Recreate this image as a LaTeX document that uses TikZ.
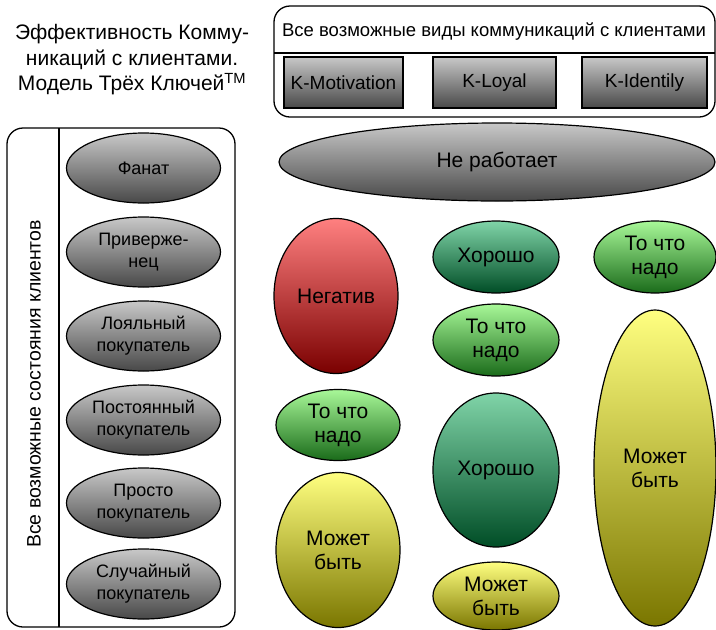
\documentclass[tikz,border=0pt]{standalone}
\usepackage{fontspec}
\setmainfont{Liberation Sans}
\usetikzlibrary{shapes.geometric}
\definecolor{grayT}{HTML}{C8C8C8}
\definecolor{grayB}{HTML}{484848}
\definecolor{redT}{HTML}{FF8080}
\definecolor{redB}{HTML}{7A0000}
\definecolor{dgT}{HTML}{80D4A8}
\definecolor{dgB}{HTML}{004D26}
\definecolor{lgT}{HTML}{A8F898}
\definecolor{lgB}{HTML}{1A6B1A}
\definecolor{yT}{HTML}{FFFF80}
\definecolor{yB}{HTML}{7A7600}
\tikzset{
  txt/.style={font=\fontsize{18}{22}\selectfont, align=center, inner sep=0pt},
  bigtxt/.style={font=\fontsize{21}{24}\selectfont},
  ell/.style={ellipse, draw=black, line width=1.2pt, inner sep=0pt, txt},
  grayell/.style={ell, top color=grayT, bottom color=grayB},
  redell/.style={ell, bigtxt, top color=redT, bottom color=redB},
  dgell/.style={ell, bigtxt, top color=dgT, bottom color=dgB},
  lgell/.style={ell, bigtxt, top color=lgT, bottom color=lgB},
  yell/.style={ell, bigtxt, top color=yT, bottom color=yB},
  kbtn/.style={rectangle, draw=black, line width=1.2pt, top color=grayT, bottom color=grayB, txt, font=\fontsize{19}{22}\selectfont},
  frame/.style={draw=black, line width=1.3pt, rounded corners=16pt}
}
\begin{document}
\begin{tikzpicture}[x=1pt, y=-1pt]
\useasboundingbox (0,0) rectangle (716,630);
% title
\node[txt, font=\fontsize{21}{25.5}\selectfont] (title) at (132,60) {Эффективность Комму-\\никаций с клиентами.\\Модель Трёх Ключей\textsuperscript{TM}};
% top frame
\draw[frame] (274,6) rectangle (715,117);
\draw[line width=1.3pt] (274,53) -- (715,53);
\node[txt, font=\fontsize{18.5}{22}\selectfont] (hdr) at (494,32) {Все возможные виды коммуникаций с клиентами};
\node[kbtn, minimum width=119pt, minimum height=51pt] (km) at (343.5,82.5) {K-Motivation};
\node[kbtn, minimum width=123pt, minimum height=51pt] (kl) at (494.5,82.5) {K-Loyal};
\node[kbtn, minimum width=125pt, minimum height=51pt] (ki) at (644.5,82.5) {K-Identily};
% left frame
\draw[frame] (7,128) rectangle (235,627);
\draw[line width=1.3pt] (59,128) -- (59,627);
\node[txt, rotate=90, font=\fontsize{19.5}{22}\selectfont] (states) at (34,384) {Все возможные состояния клиентов};
\node[grayell, minimum width=154pt, minimum height=70pt] (e1) at (143.5,168) {Фанат};
\node[grayell, minimum width=154pt, minimum height=70pt] (e2) at (143.5,252) {Приверже-\\нец};
\node[grayell, minimum width=154pt, minimum height=70pt] (e3) at (143.5,336) {Лояльный\\покупатель};
\node[grayell, minimum width=154pt, minimum height=70pt] (e4) at (143.5,420) {Постоянный\\покупатель};
\node[grayell, minimum width=154pt, minimum height=70pt] (e5) at (143.5,503) {Просто\\покупатель};
\node[grayell, minimum width=154pt, minimum height=70pt] (e6) at (143.5,584) {Случайный\\покупатель};
% right area
\node[grayell, bigtxt, minimum width=436pt, minimum height=78pt] (nr) at (497,162) {Не работает};
\node[redell, minimum width=124pt, minimum height=155pt] (neg) at (336,296) {Негатив};
\node[lgell, minimum width=124pt, minimum height=71pt] (t1) at (338,425) {То что\\надо};
\node[yell, minimum width=124pt, minimum height=155pt] (m1) at (338,550) {Может\\быть};
\node[dgell, minimum width=126pt, minimum height=72pt] (h1) at (496,257) {Хорошо};
\node[lgell, minimum width=126pt, minimum height=72pt] (t2) at (496,340) {То что\\надо};
\node[dgell, minimum width=126pt, minimum height=154pt] (h2) at (496,470) {Хорошо};
\node[yell, minimum width=126pt, minimum height=68pt] (m2) at (496,596) {Может\\быть};
\node[lgell, minimum width=122pt, minimum height=72pt] (t3) at (655,257) {То что\\надо};
\node[yell, minimum width=122pt, minimum height=316pt] (m3) at (655,468) {Может\\быть};
\end{tikzpicture}
\end{document}
